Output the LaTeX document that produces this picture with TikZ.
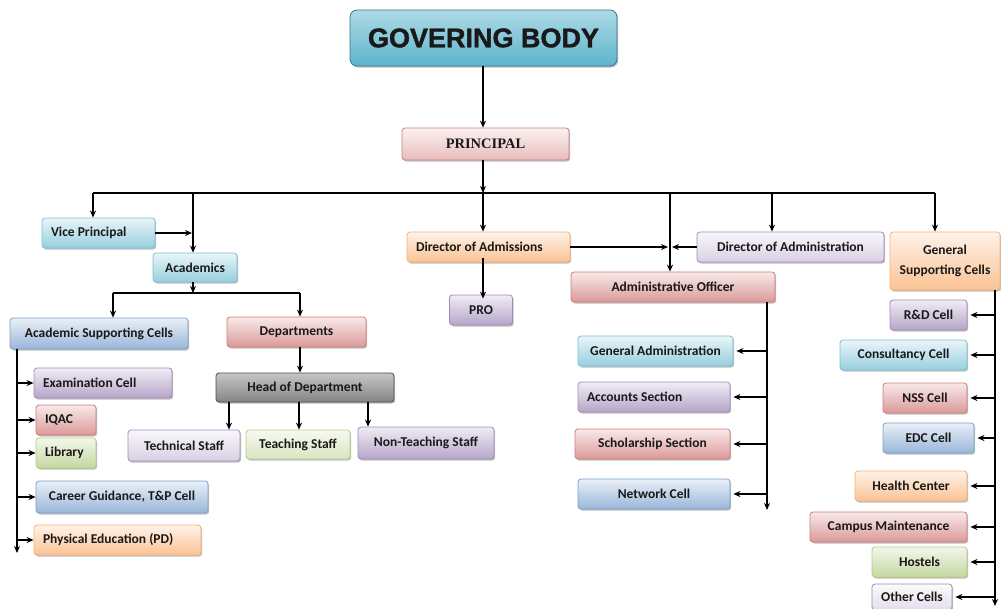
\documentclass[tikz,border=0pt]{standalone}
\usepackage{fontspec}
\newfontfamily\calfont{Carlito}
\newfontfamily\serfont{Liberation Serif}
\newfontfamily\arialfont{Liberation Sans}[BoldFeatures={FakeBold=1.5}]
\usetikzlibrary{arrows.meta,shadows,calc}
\definecolor{cteal}{HTML}{4BACC6}
\definecolor{cred}{HTML}{C0504D}
\definecolor{cpurp}{HTML}{8064A2}
\definecolor{cgreen}{HTML}{9BBB59}
\definecolor{corange}{HTML}{F79646}
\definecolor{cblue}{HTML}{4F81BD}
\definecolor{cgray}{HTML}{7F7F7F}
\begin{document}
\begin{tikzpicture}[x=1pt,y=-1pt,
  box/.style={draw=#1!75, line width=0.8pt, rounded corners=3pt, top color=#1!12, bottom color=#1!58,
    drop shadow={shadow xshift=1.2pt, shadow yshift=-1.5pt, opacity=0.25, fill=black},
    font=\calfont\bfseries\fontsize{13.5}{15}\selectfont, text=black!90, inner xsep=9pt, inner ysep=2pt},
  sz/.style 2 args={minimum width=#1 pt, minimum height=#2 pt},
  lt/.style={text width=#1 pt-18pt, align=flush left, minimum height=30pt},
  arr/.style={line width=1.2pt, -{Stealth[length=7pt,width=6pt]}},
  ln/.style={line width=1.2pt}]
\useasboundingbox (0,0) rectangle (1001,608);
% top
\node[box=cteal, sz={267}{56}, rounded corners=7pt, top color=cteal!45, bottom color=cteal!90, draw=cteal!70!black,
  font=\arialfont\bfseries\fontsize{27}{30}\selectfont, text=black!90] (gb) at (483.5,38) {GOVERING BODY};
\node[box=cred, sz={167}{32}, top color=cred!8, bottom color=cred!38, font=\serfont\bfseries\fontsize{14.5}{16}\selectfont] (pr) at (485.5,144) {PRINCIPAL};
% bus coordinates
\coordinate (bA) at (93,193);
\coordinate (bB) at (193,193);
\coordinate (bC) at (483,193);
\coordinate (bD) at (670,193);
\coordinate (bE) at (772,193);
\coordinate (bF) at (935,193);
% academics side
\node[box=cteal, lt=113] (vp) at (98.5,233) {Vice Principal};
\node[box=cteal, sz={84}{29}] (ac) at (195,267.5) {Academics};
\node[box=cblue, sz={178}{31}] (asc) at (99,333.5) {Academic Supporting Cells};
\node[box=cred, sz={139}{30}] (dep) at (296.5,332) {Departments};
\node[box=cgray, sz={178}{29}, top color=cgray!45, bottom color=cgray!95, draw=black!70] (hod) at (305,387.5) {Head of Department};
\node[box=cpurp, sz={112}{31}, top color=cpurp!5, bottom color=cpurp!30] (ts) at (184,445.5) {Technical Staff};
\node[box=cgreen, sz={104}{29}, top color=cgreen!8, bottom color=cgreen!38] (tch) at (298,444.5) {Teaching Staff};
\node[box=cpurp, sz={136}{32}] (nts) at (426,443) {Non-Teaching Staff};
\node[box=cpurp, lt=138] (exc) at (103,383) {Examination Cell};
\node[box=cred, lt=60] (iqac) at (66,420) {IQAC};
\node[box=cgreen, lt=60] (lib) at (66,453) {Library};
\node[box=cblue, sz={172}{32}] (cg) at (122,497) {Career Guidance, T\&P Cell};
\node[box=corange, lt=167] (pe) at (117.5,540) {Physical Education (PD)};
% middle
\node[box=corange, lt=163] (doa) at (488.5,247) {Director of Admissions};
\node[box=cpurp, sz={63}{30}] (pro) at (481,310) {PRO};
\node[box=cpurp, sz={187}{30}, top color=cpurp!5, bottom color=cpurp!30] (dad) at (790.5,247) {Director of Administration};
\node[box=cred, sz={204}{30}] (ao) at (673,287) {Administrative Officer};
\node[box=cteal, sz={155}{30}] (ga) at (655.5,351) {General Administration};
\node[box=cpurp, lt=152] (as) at (654,397) {Accounts Section};
\node[box=cred, sz={155}{30}] (ss) at (652.5,444) {Scholarship Section};
\node[box=cblue, sz={152}{30}] (nc) at (654,494) {Network Cell};
% right
\node[box=corange, sz={110}{58}, align=center, font=\calfont\bfseries\fontsize{13.5}{20}\selectfont] (gsc) at (945,261) {General\\Supporting Cells};
\node[box=cpurp, sz={77}{30}] (rd) at (928.5,315) {R\&D Cell};
\node[box=cteal, sz={127}{30}] (cc) at (903.5,355) {Consultancy Cell};
\node[box=cred, sz={84}{30}] (nss) at (925,398) {NSS Cell};
\node[box=cblue, sz={91}{30}] (edc) at (928.5,438) {EDC Cell};
\node[box=corange, sz={112}{30}] (hc) at (911,486) {Health Center};
\node[box=cred, sz={157}{30}] (cm) at (888.5,527) {Campus Maintenance};
\node[box=cgreen, sz={95}{30}] (ho) at (919.5,562) {Hostels};
\node[box=cpurp, sz={80}{26}, top color=cpurp!3, bottom color=cpurp!22] (oc) at (912,597) {Other Cells};
% connectors top
\draw[arr] (bC |- gb.south) -- (bC |- pr.north);
\draw[arr] (bC |- pr.south) -- (bC);
\draw[ln] (bA) -- (bF);
\draw[arr] (bA) -- (bA |- vp.north);
\draw[arr] (bB) -- (bB |- ac.north);
\draw[arr] (bC) -- (bC |- doa.north);
\draw[arr] (bD) -- (bD |- ao.north);
\draw[arr] (bE) -- (bE |- dad.north);
\draw[arr] (bF) -- (bF |- gsc.north);
\draw[arr] (vp.east) -- ([xshift=-1pt]bB |- vp.east);
% academics tree
\coordinate (aB) at (193,293);
\coordinate (aL) at (113,293);
\coordinate (aR) at (300,293);
\draw[arr] (bB |- ac.south) -- (aB);
\draw[ln] (aL) -- (aR);
\draw[arr] (aL) -- (aL |- asc.north);
\draw[arr] (aR) -- (aR |- dep.north);
\draw[arr] (aR |- dep.south) -- (aR |- hod.north);
\coordinate (h1) at (229,0);
\coordinate (h2) at (299,0);
\coordinate (h3) at (368,0);
\draw[arr] (h1 |- hod.south) -- (h1 |- ts.north);
\draw[arr] (h2 |- hod.south) -- (h2 |- tch.north);
\draw[arr] (h3 |- hod.south) -- (h3 |- nts.north);
\coordinate (tL) at (17,553);
\draw[arr] (tL |- asc.south) -- (tL);
\foreach \n in {exc,iqac,lib,cg,pe} \draw[arr] (tL |- \n.west) -- (\n.west);
% admissions / administration
\coordinate (mD) at (670,247);
\draw[arr] (doa.east) -- ([xshift=-2pt]mD);
\draw[arr] (dad.west) -- ([xshift=2pt]mD);
\draw[arr] ([yshift=4pt]bC |- doa.south) -- ([yshift=-4pt]bC |- pro.north);
\coordinate (tM) at (767,510);
\draw[arr] (tM |- ao.south) -- (tM);
\foreach \n in {ga,as,ss,nc} \draw[arr] (tM |- \n.east) -- ([xshift=3pt]\n.east);
% right trunk
\coordinate (tR) at (995,606);
\draw[arr] (tR |- gsc.south) -- (tR);
\foreach \n in {rd,cc,nss,edc,hc,cm,ho,oc} \draw[arr] (tR |- \n.east) -- ([xshift=3pt]\n.east);
\end{tikzpicture}
\end{document}
